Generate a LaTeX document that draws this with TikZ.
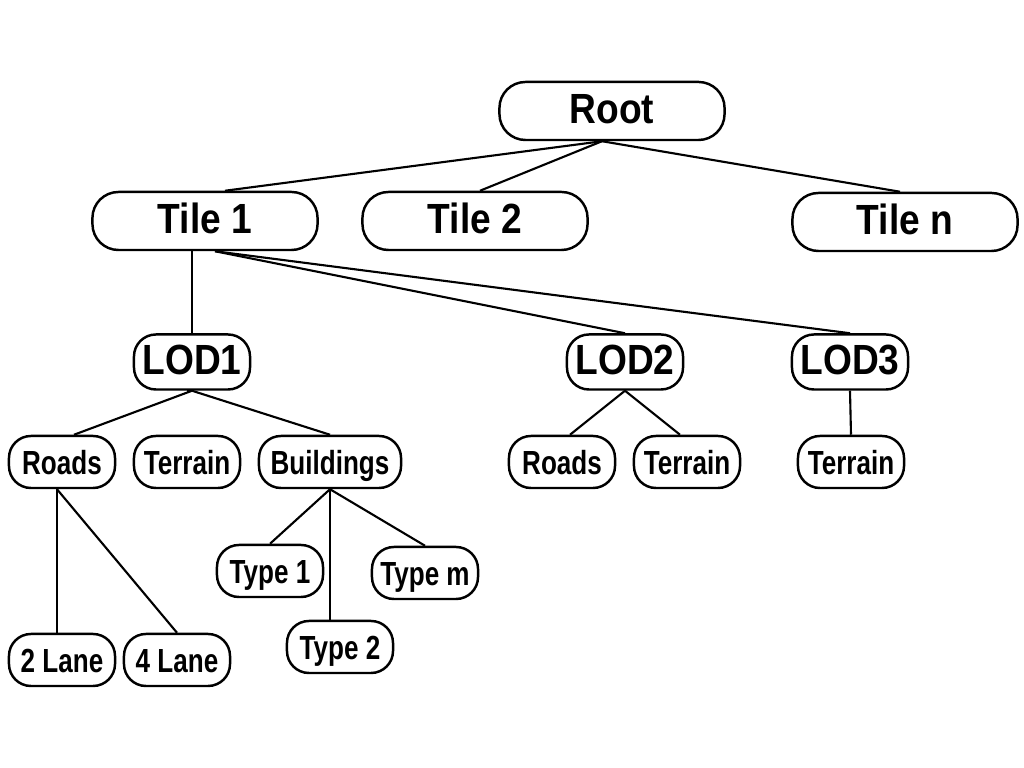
\documentclass[tikz,border=0pt]{standalone}
\usepackage{fontspec}
\setmainfont{Liberation Sans}[FakeStretch=0.88]
\newfontfamily\leaffont{Liberation Sans}[FakeStretch=0.78]
\begin{document}
\begin{tikzpicture}[x=0.01cm, y=-0.01cm,
    treebox/.style={draw, line width=0.7pt, rounded corners=0.22cm, inner sep=0.05cm, text height=0.72em, text depth=0pt},
    bigbox/.style={treebox, rounded corners=0.26cm, minimum width=2.25cm, minimum height=0.58cm, font=\fontsize{12}{14}\selectfont\bfseries},
    lodbox/.style={treebox, minimum width=1.16cm, minimum height=0.55cm, font=\fontsize{12}{14}\selectfont\bfseries},
    leafbox/.style={treebox, minimum width=1.06cm, minimum height=0.52cm, font=\leaffont\fontsize{9.5}{11}\selectfont\bfseries},
    edge/.style={line width=0.6pt}]
    \useasboundingbox (0,0) rectangle (1024,768);

    % Root and tiles
    \node[bigbox] (root) at (612,111) {Root};
    \node[bigbox] (tile1) at (205,221) {Tile 1};
    \node[bigbox] (tile2) at (475,221) {Tile 2};
    \node[bigbox] (tilen) at (905,222) {Tile n};

    % Levels of detail of the first tile
    \node[lodbox] (lod1) at (192,362) {LOD1};
    \node[lodbox] (lod2) at (625,362) {LOD2};
    \node[lodbox] (lod3) at (850,362) {LOD3};

    % Layers under each LOD
    \node[leafbox] (roads1) at (62,462) {Roads};
    \node[leafbox] (terrain1) at (187,462) {Terrain};
    \node[leafbox, minimum width=1.42cm] (buildings) at (330,462) {Buildings};
    \node[leafbox] (roads2) at (562,462) {Roads};
    \node[leafbox] (terrain2) at (687,462) {Terrain};
    \node[leafbox] (terrain3) at (851,462) {Terrain};

    % Building types and road kinds
    \node[leafbox] (type1) at (270,571) {Type 1};
    \node[leafbox] (typem) at (425,573) {Type m};
    \node[leafbox] (type2) at (340,647) {Type 2};
    \node[leafbox] (lane2) at (62,660) {2 Lane};
    \node[leafbox] (lane4) at (177,660) {4 Lane};

    % Root to tiles
    \draw[edge] ([xshift=-0.1cm]root.south) -- ([xshift=0.2cm]tile1.north);
    \draw[edge] ([xshift=-0.1cm]root.south) -- ([xshift=0.05cm]tile2.north);
    \draw[edge] ([xshift=-0.1cm]root.south) -- ([xshift=-0.05cm]tilen.north);

    % Tile 1 to LODs
    \draw[edge] (lod1.north) -- (lod1.north |- tile1.south);
    \draw[edge] ([xshift=0.1cm]tile1.south) -- (lod2.north);
    \draw[edge] ([xshift=0.1cm]tile1.south) -- (lod3.north);

    % LODs to layers
    \draw[edge] (lod1.south) -- ([xshift=0.12cm]roads1.north);
    \draw[edge] (lod1.south) -- (lod1.south -| terrain1.north);
    \draw[edge] (lod1.south) -- (buildings.north);
    \draw[edge] (lod2.south) -- ([xshift=0.08cm]roads2.north);
    \draw[edge] (lod2.south) -- ([xshift=-0.07cm]terrain2.north);
    \draw[edge] (lod3.south) -- (terrain3.north);

    % Roads and buildings to their kinds
    \draw[edge] ([xshift=-0.05cm]roads1.south) -- ([xshift=-0.05cm]lane2.north);
    \draw[edge] ([xshift=-0.05cm]roads1.south) -- (lane4.north);
    \draw[edge] (buildings.south) -- (type1.north);
    \draw[edge] (buildings.south) -- (buildings.south |- type2.north);
    \draw[edge] (buildings.south) -- (typem.north);
\end{tikzpicture}
\end{document}
